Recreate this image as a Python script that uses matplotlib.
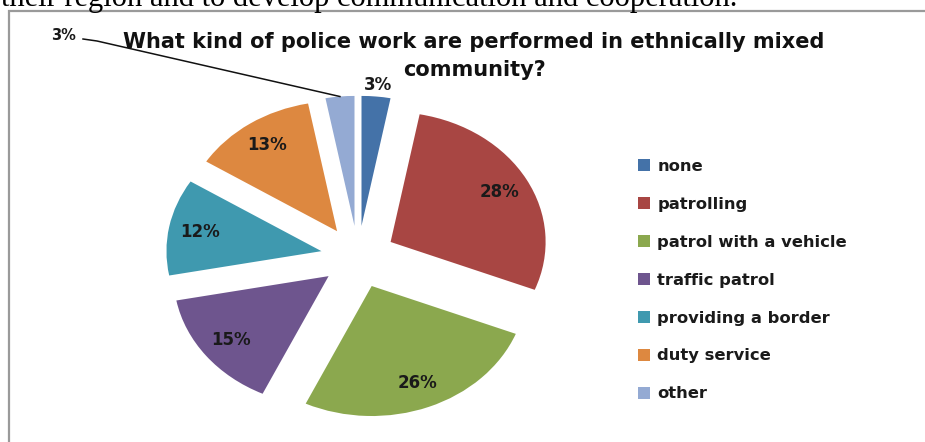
import matplotlib
matplotlib.use("Agg")
import matplotlib.pyplot as plt
from matplotlib.patches import Rectangle
import numpy as np

categories = ["none", "patrolling", "patrol with a vehicle", "traffic patrol",
              "providing a border", "duty service", "other"]
shares = [3, 28, 26, 15, 12, 13, 3]
colors = ["#4472A8", "#A84643", "#8BA84E", "#6E558E", "#3F99AF", "#DD8840", "#94AAD3"]

title = "What kind of police work are performed in ethnically mixed\ncommunity?"
caption = "their region and to develop communication and cooperation."

W, H = 925, 442
fig = plt.figure(figsize=(W / 100, H / 100), dpi=100)
fig.patch.set_facecolor("white")

# chart frame
fig.add_artist(Rectangle((9 / W, -0.05), 1.2, (H - 10.5) / H + 0.05,
                         transform=fig.transFigure, fill=False,
                         edgecolor="#9A9A9A", linewidth=1.6))

# body text line cut by the top of the page
fig.text(1 / W, 1 - 6 / H, caption, family="Liberation Serif",
         fontsize=22, va="baseline", ha="left", color="black")

# pie axes: horizontal unit 155 px, vertical unit 130 px
cx, cy = 358, 257
rx, ry = 155, 130
lim = 1.35
ax = fig.add_axes([(cx - lim * rx) / W, (H - cy - lim * ry) / H,
                   2 * lim * rx / W, 2 * lim * ry / H])
explode = [0.24] * len(shares)
wedges, texts, autotexts = ax.pie(
    shares, colors=colors, startangle=90, counterclock=False,
    explode=explode, autopct="%d%%", pctdistance=0.8,
    textprops=dict(family="DejaVu Sans", fontweight="bold", fontsize=12,
                   color="#1A1A1A"))
ax.set_aspect("auto")
ax.set_xlim(-lim, lim)
ax.set_ylim(-lim, lim)

# small "none" slice: label outside the end
w = wedges[0]
mid = np.deg2rad((w.theta1 + w.theta2) / 2)
ox, oy = w.center
autotexts[0].set_position((ox + 1.1 * np.cos(mid), oy + 1.09 * np.sin(mid)))

# "other" slice: label pulled out with a leader line
w = wedges[-1]
mid = np.deg2rad((w.theta1 + w.theta2) / 2)
ox, oy = w.center
tip = (ox + np.cos(mid), oy + np.sin(mid))
lab = ((63 - cx) / rx, (cy - 35) / ry)
autotexts[-1].set_position(lab)
autotexts[-1].set_fontsize(10.5)
elbow_a = ((83 - cx) / rx, (cy - 39) / ry)
elbow_b = ((97 - cx) / rx, (cy - 41) / ry)
ax.plot([elbow_a[0], elbow_b[0], tip[0]], [elbow_a[1], elbow_b[1], tip[1]],
        color="#111111", linewidth=1.1, clip_on=False)

fig.text(474 / W, 1 - 56 / H, title, family="DejaVu Sans", fontweight="bold",
         fontsize=15, ha="center", va="center", linespacing=1.45,
         color="#111111")

leg = fig.legend(wedges, categories, loc="upper left",
                 bbox_to_anchor=(623 / W, 1 - 144 / H), frameon=False,
                 handlelength=0.75, handleheight=0.75, handletextpad=0.45,
                 labelspacing=1.4,
                 prop=dict(family="DejaVu Sans", weight="bold", size=11.8))
for t in leg.get_texts():
    t.set_color("#1A1A1A")

fig.savefig("out.png", dpi=100, facecolor="white")
